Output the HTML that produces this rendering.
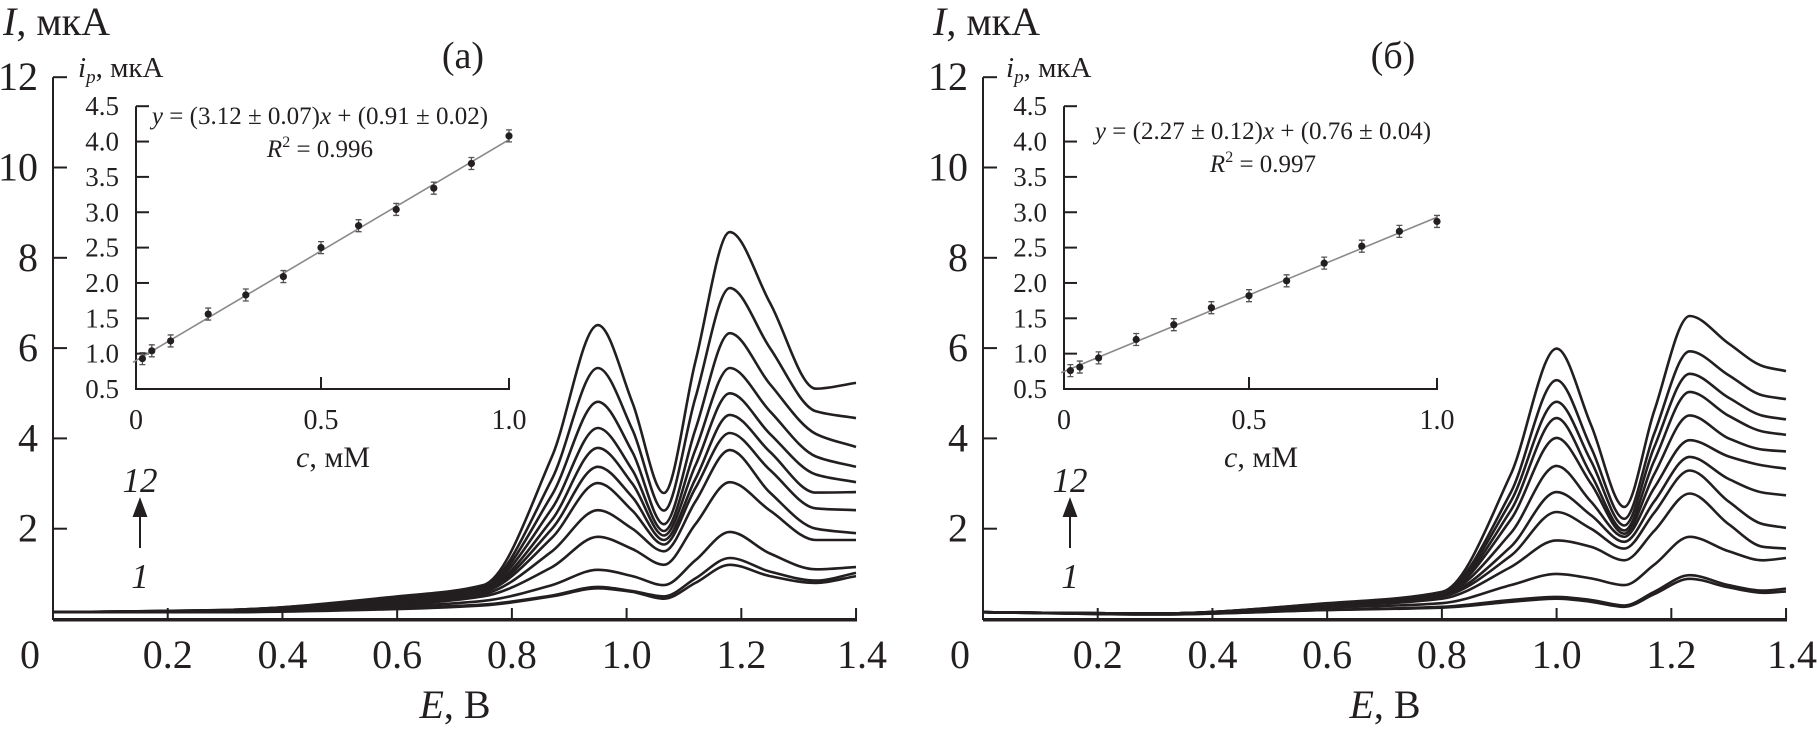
<!DOCTYPE html>
<html><head><meta charset="utf-8"><style>
html,body{margin:0;padding:0;background:#fff}
svg{display:block}
text{font-family:"Liberation Serif","DejaVu Serif",serif;fill:#231f20}
</style></head>
<body>
<svg id="chart" width="1817" height="729" viewBox="0 0 1817 729" xmlns="http://www.w3.org/2000/svg"></svg>
<script>
// ---------- data ----------
const ticksE = [0.2,0.4,0.6,0.8,1.0,1.2,1.4];
const tickLabelsE = ["0.2","0.4","0.6","0.8","1.0","1.2","1.4"];
const ticksI = [2,4,6,8,10,12];
const tickLabelsI = ["2","4","6","8","10","12"];
const insetTicksY = [0.5,1.0,1.5,2.0,2.5,3.0,3.5,4.0,4.5];
const insetTickLabelsY = ["0.5","1.0","1.5","2.0","2.5","3.0","3.5","4.0","4.5"];
const insetTicksX = [0,0.5,1.0];
const insetTickLabelsX = ["0","0.5","1.0"];

const gridA = [0,0.3,0.6,0.75,0.87,0.95,1.01,1.065,1.12,1.18,1.25,1.33,1.4];
const curvesA = [
 [.15,.15,.22,.30,.50,.68,.60,.45,.80,1.20,.95,.80,.95],
 [.15,.16,.24,.32,.52,.71,.62,.50,.90,1.35,1.05,.85,1.02],
 [.15,.16,.28,.40,.75,1.09,.95,.75,1.30,1.93,1.45,1.10,1.15],
 [.15,.17,.32,.50,1.15,1.82,1.55,1.20,2.10,3.03,2.40,1.75,1.75],
 [.15,.17,.35,.55,1.50,2.41,2.00,1.50,2.60,3.74,2.80,2.00,1.90],
 [.15,.18,.38,.60,1.80,3.01,2.40,1.65,2.90,4.12,3.30,2.45,2.41],
 [.15,.18,.40,.62,2.00,3.37,2.70,1.75,3.10,4.52,3.70,2.80,2.81],
 [.15,.19,.42,.65,2.20,3.79,3.00,1.85,3.40,5.00,4.10,3.20,3.03],
 [.15,.19,.44,.68,2.45,4.23,3.30,1.95,3.75,5.56,4.60,3.60,3.37],
 [.15,.20,.46,.70,2.75,4.81,3.70,2.10,4.20,6.33,5.20,4.10,3.81],
 [.15,.20,.48,.72,3.10,5.56,4.20,2.40,4.90,7.33,6.00,4.60,4.45],
 [.15,.20,.50,.75,3.60,6.51,4.80,2.79,5.70,8.57,7.00,5.10,5.23]
];
const gridB = [0,0.3,0.6,0.8,0.92,1.0,1.06,1.118,1.17,1.232,1.3,1.36,1.4];
const curvesB = [
 [.15,.10,.20,.25,.38,.45,.38,.27,.55,.89,.70,.58,.61],
 [.15,.10,.20,.27,.42,.49,.42,.30,.60,.97,.75,.63,.67],
 [.15,.11,.25,.35,.75,1.00,.90,.75,1.20,1.82,1.50,1.30,1.35],
 [.15,.11,.28,.45,1.15,1.74,1.60,1.30,1.95,2.78,2.10,1.60,1.56],
 [.15,.12,.30,.50,1.40,2.37,2.00,1.56,2.35,3.29,2.60,2.10,2.02],
 [.15,.12,.30,.52,1.60,2.81,2.30,1.71,2.60,3.59,3.10,2.80,2.74],
 [.15,.12,.32,.54,1.90,3.39,2.60,1.82,2.90,3.96,3.60,3.40,3.33],
 [.15,.12,.32,.55,2.20,4.01,3.00,1.89,3.20,4.51,4.00,3.75,3.71],
 [.15,.12,.33,.56,2.40,4.45,3.20,1.96,3.50,5.03,4.50,4.15,4.08],
 [.15,.12,.33,.57,2.60,4.81,3.50,2.07,3.80,5.43,4.90,4.50,4.42],
 [.15,.12,.34,.58,2.80,5.29,3.80,2.22,4.10,5.93,5.40,4.95,4.87],
 [.15,.12,.35,.60,3.20,5.99,4.30,2.48,4.60,6.71,6.10,5.60,5.49]
];
const concA = [0.025,0.05,0.1,0.2,0.3,0.4,0.5,0.6,0.7,0.8,0.9,1.0];
const peakA = [0.93,1.04,1.18,1.56,1.83,2.09,2.50,2.81,3.04,3.34,3.69,4.08];
const concB = [0.025,0.05,0.1,0.2,0.3,0.4,0.5,0.6,0.7,0.8,0.9,1.0];
const peakB = [0.76,0.81,0.94,1.20,1.41,1.65,1.82,2.03,2.28,2.52,2.73,2.87];

// ---------- drawing ----------
const NS="http://www.w3.org/2000/svg";
const svg=document.getElementById('chart');
function mk(tag,attrs,parent){const e=document.createElementNS(NS,tag);for(const k in attrs)e.setAttribute(k,attrs[k]);(parent||svg).appendChild(e);return e;}
function txt(x,y,s,size,anchor,parent,style){const t=mk('text',{x:x,y:y,'font-size':size,'text-anchor':anchor||'middle'},parent);if(style)t.setAttribute('font-style',style);t.innerHTML=s;return t;}
// monotone cubic (Fritsch-Carlson) path through points
function monotone(pts){
 const n=pts.length, d=[], m=[];
 for(let i=0;i<n-1;i++) d.push((pts[i+1][1]-pts[i][1])/(pts[i+1][0]-pts[i][0]));
 m[0]=d[0]; m[n-1]=d[n-2];
 for(let i=1;i<n-1;i++){ if(d[i-1]*d[i]<=0) m[i]=0; else { const h0=pts[i][0]-pts[i-1][0],h1=pts[i+1][0]-pts[i][0]; const w1=2*h1+h0,w2=h1+2*h0; m[i]=(w1+w2)/(w1/d[i-1]+w2/d[i]); } }
 let s='M'+pts[0][0].toFixed(1)+','+pts[0][1].toFixed(1);
 for(let i=0;i<n-1;i++){const h=(pts[i+1][0]-pts[i][0])/3;
  s+=' C'+(pts[i][0]+h).toFixed(1)+','+(pts[i][1]+m[i]*h).toFixed(1)+' '+(pts[i+1][0]-h).toFixed(1)+','+(pts[i+1][1]-m[i+1]*h).toFixed(1)+' '+pts[i+1][0].toFixed(1)+','+pts[i+1][1].toFixed(1);}
 return s;}
function lsq(xs,ys){const n=xs.length;let sx=0,sy=0,sxx=0,sxy=0;for(let i=0;i<n;i++){sx+=xs[i];sy+=ys[i];sxx+=xs[i]*xs[i];sxy+=xs[i]*ys[i];}
 const b=(n*sxy-sx*sy)/(n*sxx-sx*sx);return [b,(sy-b*sx)/n];}

function panel(cfg){
 const g=mk('g',{});
 
 
 const X0=cfg.x0, xs=573.6, Y0=619, ys=45.15;
 const xE=e=>X0+e*xs, yI=v=>Y0-v*ys;
 cfg.curves.forEach((c,ci)=>{
  const pts=c.map((v,i)=>[xE(cfg.grid[i]),yI(v)]);
  const p=mk('path',{d:monotone(pts),fill:'none',stroke:'#231f20','stroke-width':2.6},g);
  
  
 });
 const ax=mk('path',{d:`M${X0},${yI(12)} V${Y0} H${xE(1.4)}`,fill:'none',stroke:'#231f20','stroke-width':2},g);
 
 
 mk('line',{x1:X0,y1:Y0+1,x2:xE(1.4)+1,y2:Y0+1,stroke:'#231f20','stroke-width':3},g);
 ticksE.forEach((e,i)=>{
  mk('line',{x1:xE(e),y1:Y0,x2:xE(e),y2:Y0-11,stroke:'#231f20','stroke-width':2},g);
  const t=txt(xE(e)+(i==6?6:0),668,tickLabelsE[i],40,'middle',g);
  
  
 });
 const z=txt(X0-23,668,'0',40,'middle',g);
 
 
 ticksI.forEach((v,i)=>{
  mk('line',{x1:X0,y1:yI(v),x2:X0+14,y2:yI(v),stroke:'#231f20','stroke-width':2},g);
  const t=txt(X0-15,yI(v)+13,tickLabelsI[i],40,'end',g);
  
  
 });
 const yt=txt(X0-50,35,'<tspan font-style="italic">I</tspan>, мкА',40,'start',g);
 
 
 const xt=txt(X0+402,718,'<tspan font-style="italic">E</tspan>, В',40,'middle',g);
 
 
 const pl=txt(X0+410,68,cfg.label,38,'middle',g);
 
 
 const n12=txt(X0+87,492,'12',35,'middle',g,'italic');
 
 
 const ar=mk('path',{d:`M${X0+87},548 V510 M${X0+81},516 L${X0+87},500 L${X0+93},516 Z`,stroke:'#231f20','stroke-width':2,fill:'#231f20'},g);
 
 
 const n1=txt(X0+87,588,'1',35,'middle',g,'italic');
 
 

 const ig=mk('g',{},g);
 
 
 const IX0=cfg.ix0, ixs=376, IY0=389, iys=70.7;
 const xc=c=>IX0+c*ixs, yc=v=>IY0-(v-0.5)*iys;
 mk('path',{d:`M${IX0+3},${yc(4.5)} V${IY0} H${xc(1.0)} V${IY0-11}`,fill:'none',stroke:'#231f20','stroke-width':2},ig);
 insetTicksY.forEach((v,i)=>{
  mk('line',{x1:IX0+3,y1:yc(v),x2:IX0+16,y2:yc(v),stroke:'#231f20','stroke-width':2},ig);
  const t=txt(IX0-14,yc(v)+9,insetTickLabelsY[i],27,'end',ig);
  
  
 });
 insetTicksX.forEach((c,i)=>{
  if(c==0.5) mk('line',{x1:xc(c),y1:IY0,x2:xc(c),y2:IY0-12,stroke:'#231f20','stroke-width':2},ig);
  const t=txt(xc(c)+(i==0?3:0),429,insetTickLabelsX[i],28,'middle',ig);
  
  
 });
 const ixt=txt(IX0+200,467,'<tspan font-style="italic">c</tspan>, мМ',30,'middle',ig);
 
 
 const iyt=txt(IX0-55,77,'<tspan font-style="italic">i<tspan font-size="19" dy="6">p</tspan></tspan><tspan dy="-6">, мкА</tspan>',29,'start',ig);
 
 
 const f=lsq(cfg.conc,cfg.peak);
 const fl=mk('line',{x1:xc(0),y1:yc(f[1]),x2:xc(1.0),y2:yc(f[0]+f[1]),stroke:'#8a8a8a','stroke-width':1.6},ig);
 
 
 cfg.conc.forEach((c,i)=>{
  const x=xc(c),y=yc(cfg.peak[i]);
  const eb=mk('path',{d:`M${x},${y-6} V${y+6} M${x-3},${y-6} H${x+3} M${x-3},${y+6} H${x+3}`,stroke:'#555','stroke-width':1.3,fill:'none'},ig);
  
  
  const pt=mk('circle',{cx:x,cy:y,r:3.6,fill:'#231f20'},ig);
  
  
 });
 const eq=txt(IX0+cfg.eqdx,cfg.eqy,cfg.eq,25,'middle',ig);
 
 
 const r2=txt(IX0+cfg.eqdx,cfg.eqy+33,cfg.r2,25,'middle',ig);
 
 
}

panel({name:'panel-a',x0:53,ix0:133,label:'(а)',grid:gridA,curves:curvesA,conc:concA,peak:peakA,eqdx:187,eqy:124,
 eq:'<tspan font-style="italic">y</tspan> = (3.12 ± 0.07)<tspan font-style="italic">x</tspan> + (0.91 ± 0.02)',
 r2:'<tspan font-style="italic">R</tspan><tspan font-size="16" dy="-10">2</tspan><tspan dy="10"> = 0.996</tspan>'});
panel({name:'panel-b',x0:983,ix0:1061,label:'(б)',grid:gridB,curves:curvesB,conc:concB,peak:peakB,eqdx:202,eqy:139,
 eq:'<tspan font-style="italic">y</tspan> = (2.27 ± 0.12)<tspan font-style="italic">x</tspan> + (0.76 ± 0.04)',
 r2:'<tspan font-style="italic">R</tspan><tspan font-size="16" dy="-10">2</tspan><tspan dy="10"> = 0.997</tspan>'});
</script>
</body></html>
